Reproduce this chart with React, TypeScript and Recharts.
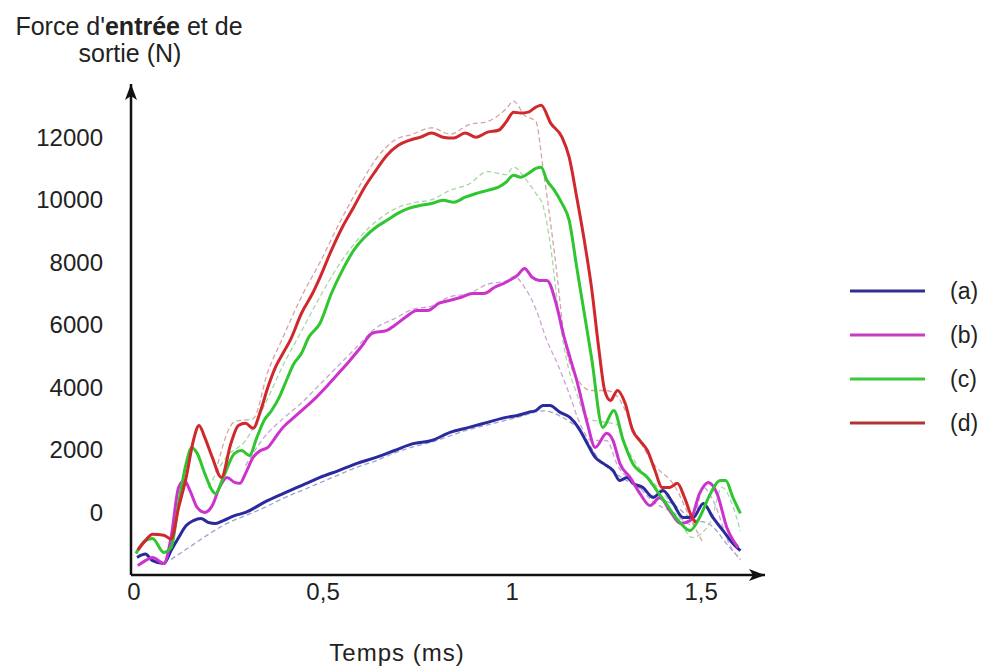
import React from 'react';
import { LineChart, Line, XAxis, YAxis } from 'recharts';

// ---- Output force (thick lines) ----
const timeA = [0.008, 0.03, 0.049, 0.079, 0.098, 0.118, 0.138, 0.157, 0.177, 0.197, 0.216, 0.236, 0.266, 0.295, 0.344, 0.394, 0.443, 0.492, 0.541, 0.59, 0.64, 0.689, 0.738, 0.787, 0.836, 0.886, 0.935, 0.984, 1.014, 1.043, 1.063, 1.082, 1.1, 1.127, 1.153, 1.175, 1.199, 1.22, 1.241, 1.267, 1.285, 1.304, 1.32, 1.346, 1.373, 1.399, 1.426, 1.452, 1.479, 1.506, 1.531, 1.558, 1.584, 1.604];
const forceA = [-1440, -1330, -1540, -1630, -1220, -800, -420, -260, -190, -320, -350, -260, -100, 0, 320, 600, 860, 1120, 1340, 1570, 1760, 1980, 2200, 2300, 2560, 2720, 2880, 3040, 3100, 3200, 3260, 3420, 3420, 3200, 3040, 2720, 2200, 1760, 1570, 1340, 1020, 1120, 930, 800, 480, 700, 290, -160, -160, 290, -160, -580, -990, -1220];

const timeB = [0.01, 0.03, 0.049, 0.079, 0.098, 0.118, 0.133, 0.148, 0.167, 0.187, 0.207, 0.226, 0.246, 0.266, 0.28, 0.295, 0.315, 0.335, 0.354, 0.374, 0.394, 0.423, 0.453, 0.482, 0.512, 0.541, 0.571, 0.6, 0.63, 0.669, 0.689, 0.718, 0.748, 0.777, 0.807, 0.836, 0.866, 0.895, 0.925, 0.954, 0.984, 1.014, 1.033, 1.053, 1.073, 1.092, 1.119, 1.135, 1.153, 1.171, 1.199, 1.22, 1.25, 1.267, 1.285, 1.312, 1.338, 1.365, 1.391, 1.417, 1.445, 1.471, 1.496, 1.519, 1.542, 1.568, 1.598];
const forceB = [-1700, -1540, -1440, -1630, -800, 800, 1020, 700, 160, 0, 220, 800, 1120, 960, 930, 1250, 1760, 1980, 2080, 2400, 2720, 3040, 3360, 3680, 4060, 4450, 4860, 5280, 5730, 5820, 5980, 6240, 6460, 6460, 6690, 6780, 6880, 7000, 7000, 7200, 7360, 7580, 7800, 7520, 7420, 7420, 6560, 5730, 4960, 4220, 2850, 2080, 2530, 2300, 1570, 1120, 610, 220, 480, 60, -350, -260, 610, 960, 610, -480, -1120];

const timeC = [0.005, 0.03, 0.049, 0.079, 0.098, 0.118, 0.138, 0.153, 0.167, 0.187, 0.207, 0.216, 0.236, 0.266, 0.285, 0.305, 0.325, 0.344, 0.364, 0.384, 0.403, 0.423, 0.443, 0.462, 0.492, 0.522, 0.551, 0.581, 0.61, 0.64, 0.669, 0.699, 0.728, 0.758, 0.787, 0.817, 0.846, 0.876, 0.905, 0.935, 0.964, 0.984, 1.004, 1.023, 1.043, 1.063, 1.077, 1.092, 1.112, 1.132, 1.151, 1.171, 1.191, 1.21, 1.24, 1.269, 1.294, 1.319, 1.358, 1.383, 1.407, 1.446, 1.471, 1.496, 1.525, 1.55, 1.565, 1.584, 1.604];
const forceC = [-1310, -900, -830, -1280, -1120, 290, 1570, 2080, 1890, 1250, 700, 600, 1120, 1890, 1980, 1820, 2400, 2940, 3260, 3680, 4220, 4760, 5090, 5600, 6050, 7000, 7740, 8380, 8800, 9120, 9340, 9570, 9730, 9820, 9880, 9980, 9920, 10080, 10200, 10300, 10400, 10560, 10780, 10720, 10840, 11000, 11040, 10620, 10300, 9880, 9340, 7840, 6370, 4960, 2720, 3260, 2300, 1570, 1120, 700, 290, -350, -580, -160, 610, 1020, 1020, 480, -30];

const timeD = [0.01, 0.03, 0.049, 0.079, 0.098, 0.118, 0.138, 0.157, 0.172, 0.187, 0.207, 0.231, 0.256, 0.276, 0.295, 0.315, 0.335, 0.354, 0.374, 0.394, 0.413, 0.443, 0.472, 0.492, 0.522, 0.551, 0.581, 0.61, 0.64, 0.669, 0.699, 0.728, 0.758, 0.787, 0.817, 0.846, 0.876, 0.905, 0.935, 0.964, 0.984, 1.004, 1.023, 1.043, 1.063, 1.077, 1.102, 1.132, 1.151, 1.171, 1.191, 1.21, 1.23, 1.245, 1.26, 1.279, 1.299, 1.319, 1.338, 1.358, 1.378, 1.397, 1.417, 1.437, 1.456, 1.476, 1.486];
const forceD = [-1200, -900, -700, -730, -850, 160, 1120, 2300, 2780, 2400, 1760, 1120, 2200, 2780, 2850, 2690, 3260, 4000, 4640, 5090, 5500, 6370, 7000, 7520, 8380, 9120, 9760, 10400, 10940, 11420, 11740, 11900, 12000, 12130, 12000, 11970, 12130, 12000, 12160, 12220, 12480, 12800, 12770, 12800, 12960, 13020, 12450, 12000, 11360, 10080, 8700, 7200, 5180, 3900, 3580, 3900, 3490, 2620, 2300, 1980, 1340, 800, 800, 930, 480, -160, -320];

// ---- Input force (thin lines) ----
const timeAin = [0.098, 0.148, 0.197, 0.246, 0.295, 0.344, 0.394, 0.443, 0.492, 0.541, 0.59, 0.64, 0.689, 0.738, 0.787, 0.836, 0.886, 0.935, 0.984, 1.033, 1.082, 1.132, 1.181, 1.23, 1.279, 1.328, 1.378, 1.427, 1.476, 1.525, 1.574, 1.604];
const forceAin = [-1500, -1100, -700, -350, -100, 150, 450, 700, 950, 1200, 1450, 1650, 1900, 2100, 2250, 2450, 2650, 2800, 2950, 3100, 3250, 3050, 2600, 1700, 1200, 850, 500, 250, -200, -400, -1100, -1500];

const timeBin = [0.295, 0.344, 0.394, 0.443, 0.492, 0.541, 0.59, 0.64, 0.689, 0.738, 0.787, 0.836, 0.886, 0.935, 0.984, 1.004, 1.033, 1.063, 1.092, 1.122, 1.151, 1.181, 1.21, 1.25, 1.279, 1.328, 1.378, 1.427, 1.476, 1.506, 1.535, 1.574, 1.604];
const forceBin = [1500, 2400, 3000, 3500, 4100, 4700, 5300, 5900, 6200, 6500, 6600, 6900, 7000, 7300, 7400, 7550, 7200, 6500, 5500, 4700, 3800, 2800, 2300, 2300, 1500, 900, 300, 0, -400, 800, 300, -1000, -1500];

const timeCin = [0.197, 0.246, 0.295, 0.344, 0.394, 0.443, 0.492, 0.541, 0.59, 0.64, 0.689, 0.738, 0.787, 0.836, 0.886, 0.935, 0.984, 1.004, 1.033, 1.063, 1.082, 1.102, 1.122, 1.142, 1.171, 1.2, 1.24, 1.279, 1.299, 1.338, 1.378, 1.427, 1.476, 1.525, 1.555, 1.584, 1.604];
const forceCin = [800, 1800, 2300, 3400, 4700, 5800, 6900, 7900, 8700, 9300, 9700, 9900, 10000, 10300, 10500, 10900, 10800, 11050, 10700, 10200, 9800, 8500, 6500, 5000, 3800, 3000, 2900, 2800, 2200, 1400, 900, 200, -800, -300, 800, 200, -600];

const timeDin = [0.216, 0.266, 0.315, 0.354, 0.394, 0.443, 0.492, 0.541, 0.59, 0.64, 0.689, 0.738, 0.787, 0.836, 0.886, 0.935, 0.984, 1.004, 1.033, 1.063, 1.082, 1.112, 1.142, 1.171, 1.21, 1.25, 1.279, 1.328, 1.378, 1.427, 1.476, 1.506];
const forceDin = [1300, 2900, 3000, 4500, 5600, 6900, 8000, 9200, 10300, 11300, 11900, 12100, 12300, 12100, 12400, 12500, 12900, 13150, 12700, 12500, 11000, 8300, 5300, 4300, 3900, 3900, 3700, 2500, 1500, 900, -300, -1000];

const seriesNames = ['(a)', '(b)', '(c)', '(d)'];
const seriesColors = ['#2a2a9e', '#cc33cc', '#2fc62f', '#d0282c'];
const legendColors = ['#303090', '#c83cc0', '#3cc83c', '#b03434'];
const inputColors = ['#9ea2d2', '#c9a6d2', '#a9d6a9', '#d6a4a4'];

const xTicks = [0, 0.5, 1, 1.5];
const yTicks = [0, 2000, 4000, 6000, 8000, 10000, 12000];

const toPoints = (ts: number[], fs: number[]) => ts.map((t, i) => ({ t, f: fs[i] }));

const FONT = "'Liberation Sans', Arial, sans-serif";

export default function App() {
  const outputs = [toPoints(timeA, forceA), toPoints(timeB, forceB), toPoints(timeC, forceC), toPoints(timeD, forceD)];
  const inputs = [toPoints(timeAin, forceAin), toPoints(timeBin, forceBin), toPoints(timeCin, forceCin), toPoints(timeDin, forceDin)];
  const tickStyle = { fontSize: 24, fill: '#222', fontFamily: FONT };
  return (
    <div style={{ position: 'absolute', left: 0, top: 0, width: 982, height: 668, background: '#fff' }}>
      <svg width={0} height={0} style={{ position: 'absolute' }}>
        <defs>
          <marker id="axisArrow" markerUnits="userSpaceOnUse" markerWidth={18} markerHeight={14} refX={16} refY={7} orient="auto-start-reverse">
            <path d="M0,1 L16,7 L0,13 L4,7 Z" fill="#111" />
          </marker>
        </defs>
      </svg>
      <LineChart width={982} height={668} margin={{ top: 84, right: 217, bottom: 0, left: 0 }}>
        <XAxis
          type="number"
          dataKey="t"
          domain={[-0.008, 1.669]}
          ticks={xTicks}
          interval={0}
          allowDataOverflow
          tickFormatter={(v: number) => String(v).replace('.', ',')}
          axisLine={{ stroke: '#111', strokeWidth: 2.5, markerEnd: 'url(#axisArrow)' }}
          tickLine={false}
          tickSize={0}
          tickMargin={8}
          height={93}
          tick={tickStyle}
        />
        <YAxis
          type="number"
          dataKey="f"
          domain={[-2000, 13700]}
          ticks={yTicks}
          interval={0}
          allowDataOverflow
          width={131}
          axisLine={{ stroke: '#111', strokeWidth: 2.5, markerStart: 'url(#axisArrow)' }}
          tickLine={false}
          tickSize={0}
          tickMargin={28}
          tick={tickStyle}
        />
        {inputs.map((d, i) => (
          <Line
            key={'in' + i}
            data={d}
            dataKey="f"
            type="monotone"
            stroke={inputColors[i]}
            strokeWidth={1.3}
            strokeDasharray="5 3"
            dot={false}
            isAnimationActive={false}
          />
        ))}
        {outputs.map((d, i) => (
          <Line
            key={'out' + i}
            data={d}
            dataKey="f"
            name={seriesNames[i]}
            type="monotone"
            stroke={seriesColors[i]}
            strokeWidth={3}
            dot={false}
            isAnimationActive={false}
          />
        ))}
      </LineChart>
      <svg width={982} height={668} style={{ position: 'absolute', left: 0, top: 0, pointerEvents: 'none' }}>
        <text x={129} y={35} textAnchor="middle" fontFamily={FONT} fontSize={25} fill="#222">
          Force d'<tspan fontWeight="bold">entrée</tspan> et de
        </text>
        <text x={130} y={62} textAnchor="middle" fontFamily={FONT} fontSize={25} fill="#222">
          sortie (N)
        </text>
        <text x={397} y={661} textAnchor="middle" fontFamily={FONT} fontSize={24} fill="#222" letterSpacing={1}>
          Temps (ms)
        </text>
        {seriesNames.map((n, i) => (
          <g key={n}>
            <line x1={850} x2={925} y1={291 + i * 44} y2={291 + i * 44} stroke={legendColors[i]} strokeWidth={3} />
            <text x={950} y={299 + i * 44} fontFamily={FONT} fontSize={23} fill="#222">
              {n}
            </text>
          </g>
        ))}
      </svg>
    </div>
  );
}
